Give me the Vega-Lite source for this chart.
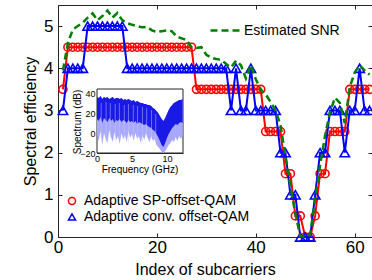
{
  "$schema": "https://vega.github.io/schema/vega-lite/v6.json",
  "autosize": {"type": "none"},
  "padding": {"left": 58, "top": 5, "right": 0, "bottom": 43},
  "width": 314,
  "height": 232,
  "background": "white",
  "config": {
    "view": {"stroke": null},
    "font": "Liberation Sans",
    "axis": {"grid": false, "domainColor": "#262626", "tickColor": "#262626", "labelColor": "#000000", "titleColor": "#000000", "titleFontWeight": "normal", "labelFlush": false, "labelOverlap": false, "zindex": 1},
    "legend": {"labelColor": "#000000", "labelFont": "Liberation Sans", "labelLimit": 0}
  },
  "datasets": {
    "main": [
      {"i": 1, "sp": 3.5, "conv": 3, "snr": 3.95},
      {"i": 2, "sp": 4.5, "conv": 4, "snr": 4.6},
      {"i": 3, "sp": 4.5, "conv": 4, "snr": 4.92},
      {"i": 4, "sp": 4.5, "conv": 4, "snr": 5.0},
      {"i": 5, "sp": 4.5, "conv": 4, "snr": 5.08},
      {"i": 6, "sp": 4.5, "conv": 5, "snr": 5.2},
      {"i": 7, "sp": 4.5, "conv": 5, "snr": 5.3},
      {"i": 8, "sp": 4.5, "conv": 5, "snr": 5.14},
      {"i": 9, "sp": 4.5, "conv": 5, "snr": 5.24},
      {"i": 10, "sp": 4.5, "conv": 5, "snr": 5.37},
      {"i": 11, "sp": 4.5, "conv": 5, "snr": 5.2},
      {"i": 12, "sp": 4.5, "conv": 5, "snr": 5.31},
      {"i": 13, "sp": 4.5, "conv": 5, "snr": 5.14},
      {"i": 14, "sp": 4.5, "conv": 4, "snr": 5.07},
      {"i": 15, "sp": 4.5, "conv": 4, "snr": 5.03},
      {"i": 16, "sp": 4.5, "conv": 4, "snr": 5.0},
      {"i": 17, "sp": 4.5, "conv": 4, "snr": 4.97},
      {"i": 18, "sp": 4.5, "conv": 4, "snr": 4.98},
      {"i": 19, "sp": 4.5, "conv": 4, "snr": 4.9},
      {"i": 20, "sp": 4.5, "conv": 4, "snr": 4.86},
      {"i": 21, "sp": 4.5, "conv": 4, "snr": 4.88},
      {"i": 22, "sp": 4.5, "conv": 4, "snr": 4.9},
      {"i": 23, "sp": 4.5, "conv": 4, "snr": 4.88},
      {"i": 24, "sp": 4.5, "conv": 4, "snr": 4.75},
      {"i": 25, "sp": 4.5, "conv": 4, "snr": 4.71},
      {"i": 26, "sp": 4.5, "conv": 4, "snr": 4.67},
      {"i": 27, "sp": 4.5, "conv": 4, "snr": 4.5},
      {"i": 28, "sp": 3.5, "conv": 4, "snr": 4.48},
      {"i": 29, "sp": 3.5, "conv": 4, "snr": 4.5},
      {"i": 30, "sp": 3.5, "conv": 4, "snr": 4.32},
      {"i": 31, "sp": 3.5, "conv": 4, "snr": 4.25},
      {"i": 32, "sp": 3.5, "conv": 4, "snr": 4.22},
      {"i": 33, "sp": 3.5, "conv": 4, "snr": 4.2},
      {"i": 34, "sp": 3.5, "conv": 4, "snr": 4.1},
      {"i": 35, "sp": 3.5, "conv": 3, "snr": 4.02},
      {"i": 36, "sp": 3.5, "conv": 4, "snr": 4.18},
      {"i": 37, "sp": 3.5, "conv": 3, "snr": 4.07},
      {"i": 38, "sp": 3.5, "conv": 3, "snr": 3.76},
      {"i": 39, "sp": 3.5, "conv": 4, "snr": 4.08},
      {"i": 40, "sp": 3.5, "conv": 3, "snr": 3.74},
      {"i": 41, "sp": 3.5, "conv": 3, "snr": 3.5},
      {"i": 42, "sp": 2.5, "conv": 3, "snr": 3.38},
      {"i": 43, "sp": 2.5, "conv": 3, "snr": 3.2},
      {"i": 44, "sp": 2.5, "conv": 3, "snr": 3.0},
      {"i": 45, "sp": 2.5, "conv": 2, "snr": 2.65},
      {"i": 46, "sp": 1.5, "conv": 2, "snr": 1.9},
      {"i": 47, "sp": 1.5, "conv": 1, "snr": 1.2},
      {"i": 48, "sp": 0.5, "conv": 1, "snr": 0.55},
      {"i": 49, "sp": 0.5, "conv": 0, "snr": 0.02},
      {"i": 50, "sp": 0, "conv": 0, "snr": 0},
      {"i": 51, "sp": 0, "conv": 0, "snr": 0.05},
      {"i": 52, "sp": 0.5, "conv": 1, "snr": 0.9},
      {"i": 53, "sp": 1.5, "conv": 2, "snr": 1.7},
      {"i": 54, "sp": 1.5, "conv": 2, "snr": 2.4},
      {"i": 55, "sp": 2.5, "conv": 3, "snr": 2.95},
      {"i": 56, "sp": 2.5, "conv": 3, "snr": 3.3},
      {"i": 57, "sp": 2.5, "conv": 3, "snr": 3.18},
      {"i": 58, "sp": 2.5, "conv": 2, "snr": 2.7},
      {"i": 59, "sp": 3.5, "conv": 3, "snr": 3.55},
      {"i": 60, "sp": 3.5, "conv": 3, "snr": 3.9},
      {"i": 61, "sp": 3.5, "conv": 4, "snr": 4.07},
      {"i": 62, "sp": 3.5, "conv": 3, "snr": 3.95},
      {"i": 63, "sp": 3.5, "conv": 3, "snr": 3.85}
    ],
    "spec": [
      {"f": 0.0, "hi": 36, "dlo": 14, "llo": -2},
      {"f": 0.25, "hi": 35, "dlo": 12, "llo": -8},
      {"f": 0.5, "hi": 37, "dlo": 16, "llo": 2},
      {"f": 0.75, "hi": 34, "dlo": 10, "llo": -12},
      {"f": 1.0, "hi": 36, "dlo": 15, "llo": 0},
      {"f": 1.25, "hi": 35, "dlo": 13, "llo": -6},
      {"f": 1.5, "hi": 36, "dlo": 11, "llo": -10},
      {"f": 1.75, "hi": 34, "dlo": 15, "llo": 3},
      {"f": 2.0, "hi": 35, "dlo": 12, "llo": -4},
      {"f": 2.25, "hi": 36, "dlo": 14, "llo": -9},
      {"f": 2.5, "hi": 34, "dlo": 10, "llo": 1},
      {"f": 2.75, "hi": 35, "dlo": 13, "llo": -7},
      {"f": 3.0, "hi": 35, "dlo": 12, "llo": -3},
      {"f": 3.25, "hi": 34, "dlo": 14, "llo": -11},
      {"f": 3.5, "hi": 35, "dlo": 11, "llo": 0},
      {"f": 3.75, "hi": 33, "dlo": 13, "llo": -6},
      {"f": 4.0, "hi": 34, "dlo": 12, "llo": -2},
      {"f": 4.25, "hi": 33, "dlo": 10, "llo": -9},
      {"f": 4.5, "hi": 34, "dlo": 13, "llo": 2},
      {"f": 4.75, "hi": 33, "dlo": 11, "llo": -5},
      {"f": 5.0, "hi": 32, "dlo": 12, "llo": -1},
      {"f": 5.25, "hi": 33, "dlo": 10, "llo": -8},
      {"f": 5.5, "hi": 31, "dlo": 12, "llo": 0},
      {"f": 5.75, "hi": 32, "dlo": 9, "llo": -6},
      {"f": 6.0, "hi": 31, "dlo": 11, "llo": -3},
      {"f": 6.25, "hi": 30, "dlo": 10, "llo": -10},
      {"f": 6.5, "hi": 30, "dlo": 9, "llo": -2},
      {"f": 6.75, "hi": 29, "dlo": 8, "llo": -7},
      {"f": 7.0, "hi": 29, "dlo": 9, "llo": 0},
      {"f": 7.25, "hi": 28, "dlo": 7, "llo": -5},
      {"f": 7.5, "hi": 28, "dlo": 6, "llo": -9},
      {"f": 7.75, "hi": 27, "dlo": 5, "llo": -3},
      {"f": 8.0, "hi": 25, "dlo": 3, "llo": -8},
      {"f": 8.25, "hi": 24, "dlo": 2, "llo": -6},
      {"f": 8.5, "hi": 22, "dlo": -1, "llo": -12},
      {"f": 8.75, "hi": 20, "dlo": -4, "llo": -14},
      {"f": 9.0, "hi": 17, "dlo": -8, "llo": -16},
      {"f": 9.25, "hi": 14, "dlo": -12, "llo": -19},
      {"f": 9.5, "hi": 12, "dlo": -14, "llo": -20},
      {"f": 9.75, "hi": 15, "dlo": -10, "llo": -18},
      {"f": 10.0, "hi": 19, "dlo": -5, "llo": -15},
      {"f": 10.25, "hi": 23, "dlo": -1, "llo": -12},
      {"f": 10.5, "hi": 26, "dlo": 2, "llo": -10},
      {"f": 10.75, "hi": 28, "dlo": 5, "llo": -7},
      {"f": 11.0, "hi": 30, "dlo": 7, "llo": -9},
      {"f": 11.25, "hi": 31, "dlo": 9, "llo": -4},
      {"f": 11.5, "hi": 32, "dlo": 8, "llo": -8},
      {"f": 11.75, "hi": 33, "dlo": 10, "llo": -3},
      {"f": 12.0, "hi": 33, "dlo": 11, "llo": -6},
      {"f": 12.25, "hi": 34, "dlo": 10, "llo": -2}
    ],
    "stripes": [
      {"f": 0.6, "top": 30, "bot": -6},
      {"f": 1.3, "top": 31, "bot": -9},
      {"f": 1.9, "top": 30, "bot": -5},
      {"f": 2.6, "top": 29, "bot": -8},
      {"f": 3.2, "top": 30, "bot": -10},
      {"f": 3.9, "top": 28, "bot": -6},
      {"f": 4.5, "top": 29, "bot": -8},
      {"f": 5.2, "top": 28, "bot": -7},
      {"f": 5.8, "top": 27, "bot": -5},
      {"f": 6.5, "top": 26, "bot": -9},
      {"f": 7.1, "top": 25, "bot": -4},
      {"f": 7.8, "top": 23, "bot": -6},
      {"f": 8.4, "top": 19, "bot": -10}
    ],
    "frame": [{"x0": 0, "x1": 12.3, "y0": -20, "y1": 44}]
  },
  "layer": [
    {
      "data": {"name": "main"},
      "layer": [
        {
          "mark": {"type": "line", "color": "#ff0000", "strokeWidth": 2},
          "encoding": {
            "x": {"field": "i", "type": "quantitative", "scale": {"domain": [0, 63.5], "nice": false, "zero": false},
              "axis": {"orient": "bottom", "values": [0, 20, 40, 60], "format": "d", "title": "Index of subcarriers", "titleFontSize": 16, "titleX": 147, "titleY": 24, "titleBaseline": "top", "labelFontSize": 17, "tickSize": -4, "labelPadding": 6}},
            "y": {"field": "sp", "type": "quantitative", "scale": {"domain": [0, 5.5], "nice": false, "zero": false},
              "axis": {"orient": "left", "values": [0, 1, 2, 3, 4, 5], "format": "d", "title": "Spectral efficiency", "titleFontSize": 16, "titleX": -20, "titleY": 116, "titleAngle": 270, "titleBaseline": "bottom", "labelFontSize": 17, "tickSize": -4, "labelPadding": 9}}
          }
        },
        {
          "mark": {"type": "point", "filled": false, "strokeWidth": 1.6, "size": 64, "opacity": 1},
          "encoding": {
            "x": {"field": "i", "type": "quantitative", "axis": null},
            "y": {"field": "sp", "type": "quantitative", "axis": null},
            "color": {"datum": "Adaptive SP-offset-QAM", "scale": {"domain": ["Adaptive SP-offset-QAM", "Adaptive conv. offset-QAM"], "range": ["#ff0000", "#0000ff"]},
              "legend": {"orient": "none", "legendX": 7, "legendY": 189, "title": null, "labelFontSize": 14, "symbolSize": 50, "symbolStrokeWidth": 1.5, "labelOffset": 5, "rowPadding": 2, "labelLimit": 0}},
            "shape": {"datum": "Adaptive SP-offset-QAM", "scale": {"domain": ["Adaptive SP-offset-QAM", "Adaptive conv. offset-QAM"], "range": ["circle", "triangle-up"]},
              "legend": {"orient": "none", "legendX": 7, "legendY": 189, "title": null, "labelFontSize": 14, "symbolSize": 50, "symbolStrokeWidth": 1.5, "labelOffset": 5, "rowPadding": 2, "labelLimit": 0}}
          }
        },
        {
          "mark": {"type": "line", "color": "#0000ff", "strokeWidth": 2},
          "encoding": {
            "x": {"field": "i", "type": "quantitative",
              "axis": {"orient": "top", "values": [0, 20, 40, 60], "labels": false, "title": null, "tickSize": -4}},
            "y": {"field": "conv", "type": "quantitative",
              "axis": {"orient": "right", "values": [0, 1, 2, 3, 4, 5], "labels": false, "title": null, "tickSize": -4, "domain": false}}
          }
        },
        {
          "mark": {"type": "point", "filled": false, "strokeWidth": 1.6, "size": 90, "opacity": 1},
          "encoding": {
            "x": {"field": "i", "type": "quantitative", "axis": null},
            "y": {"field": "conv", "type": "quantitative", "axis": null},
            "color": {"datum": "Adaptive conv. offset-QAM"},
            "shape": {"datum": "Adaptive conv. offset-QAM"}
          }
        },
        {
          "mark": {"type": "line", "color": "#008000", "strokeWidth": 2.5},
          "encoding": {
            "x": {"field": "i", "type": "quantitative", "axis": null},
            "y": {"field": "snr", "type": "quantitative", "axis": null},
            "strokeDash": {"datum": "Estimated SNR", "scale": {"range": [[7, 4]]},
              "legend": {"orient": "none", "legendX": 151, "legendY": 9, "title": null, "labelFontSize": 14, "symbolType": "stroke", "symbolSize": 900, "symbolStrokeColor": "#008000", "symbolStrokeWidth": 2.5, "labelOffset": 2, "labelLimit": 0}}
          }
        }
      ],
      "resolve": {"axis": {"x": "independent", "y": "independent"}}
    },
    {
      "layer": [
        {
          "data": {"name": "frame"},
          "mark": {"type": "rect", "fill": "#ffffff", "stroke": "#262626", "strokeWidth": 1},
          "encoding": {
            "x": {"field": "x0", "type": "quantitative", "scale": {"domain": [0, 12.3], "range": [39, 125], "nice": false, "zero": false},
              "axis": {"orient": "bottom", "offset": -84, "values": [0, 5, 10], "format": "d", "labelFontSize": 9, "tickSize": -2, "labelPadding": 3, "title": null}},
            "x2": {"field": "x1"},
            "y": {"field": "y0", "type": "quantitative", "scale": {"domain": [-20, 44], "range": [148, 84], "nice": false, "zero": false},
              "axis": {"orient": "left", "offset": -39, "values": [-20, 0, 20, 40], "format": "d", "labelFontSize": 9, "tickSize": -2, "labelPadding": 4, "title": null}},
            "y2": {"field": "y1"}
          }
        },
        {
          "data": {"name": "spec"},
          "mark": {"type": "area", "color": "#a8a8ff", "opacity": 1},
          "encoding": {
            "x": {"field": "f", "type": "quantitative"},
            "y": {"field": "hi", "type": "quantitative"},
            "y2": {"field": "llo"}
          }
        },
        {
          "data": {"name": "spec"},
          "mark": {"type": "area", "color": "#1a1ae6", "opacity": 1},
          "encoding": {
            "x": {"field": "f", "type": "quantitative"},
            "y": {"field": "hi", "type": "quantitative"},
            "y2": {"field": "dlo"}
          }
        },
        {
          "data": {"name": "stripes"},
          "mark": {"type": "rule", "color": "#c8c8ff", "strokeWidth": 0.8, "opacity": 0.6},
          "encoding": {
            "x": {"field": "f", "type": "quantitative"},
            "y": {"field": "top", "type": "quantitative"},
            "y2": {"field": "bot"}
          }
        },
        {
          "data": {"values": [{"label": "Frequency (GHz)"}]},
          "mark": {"type": "text", "fontSize": 10, "font": "Liberation Sans", "color": "#000000", "align": "center", "baseline": "middle"},
          "encoding": {
            "x": {"datum": 6.15, "type": "quantitative"},
            "y": {"datum": -37, "type": "quantitative"},
            "text": {"field": "label"}
          }
        },
        {
          "data": {"values": [{"label": "Spectrum (dB)"}]},
          "mark": {"type": "text", "fontSize": 10, "font": "Liberation Sans", "color": "#000000", "align": "center", "baseline": "middle", "angle": 270},
          "encoding": {
            "x": {"datum": -2.7, "type": "quantitative"},
            "y": {"datum": 11, "type": "quantitative"},
            "text": {"field": "label"}
          }
        }
      ]
    }
  ],
  "resolve": {"scale": {"x": "independent", "y": "independent"}}
}
